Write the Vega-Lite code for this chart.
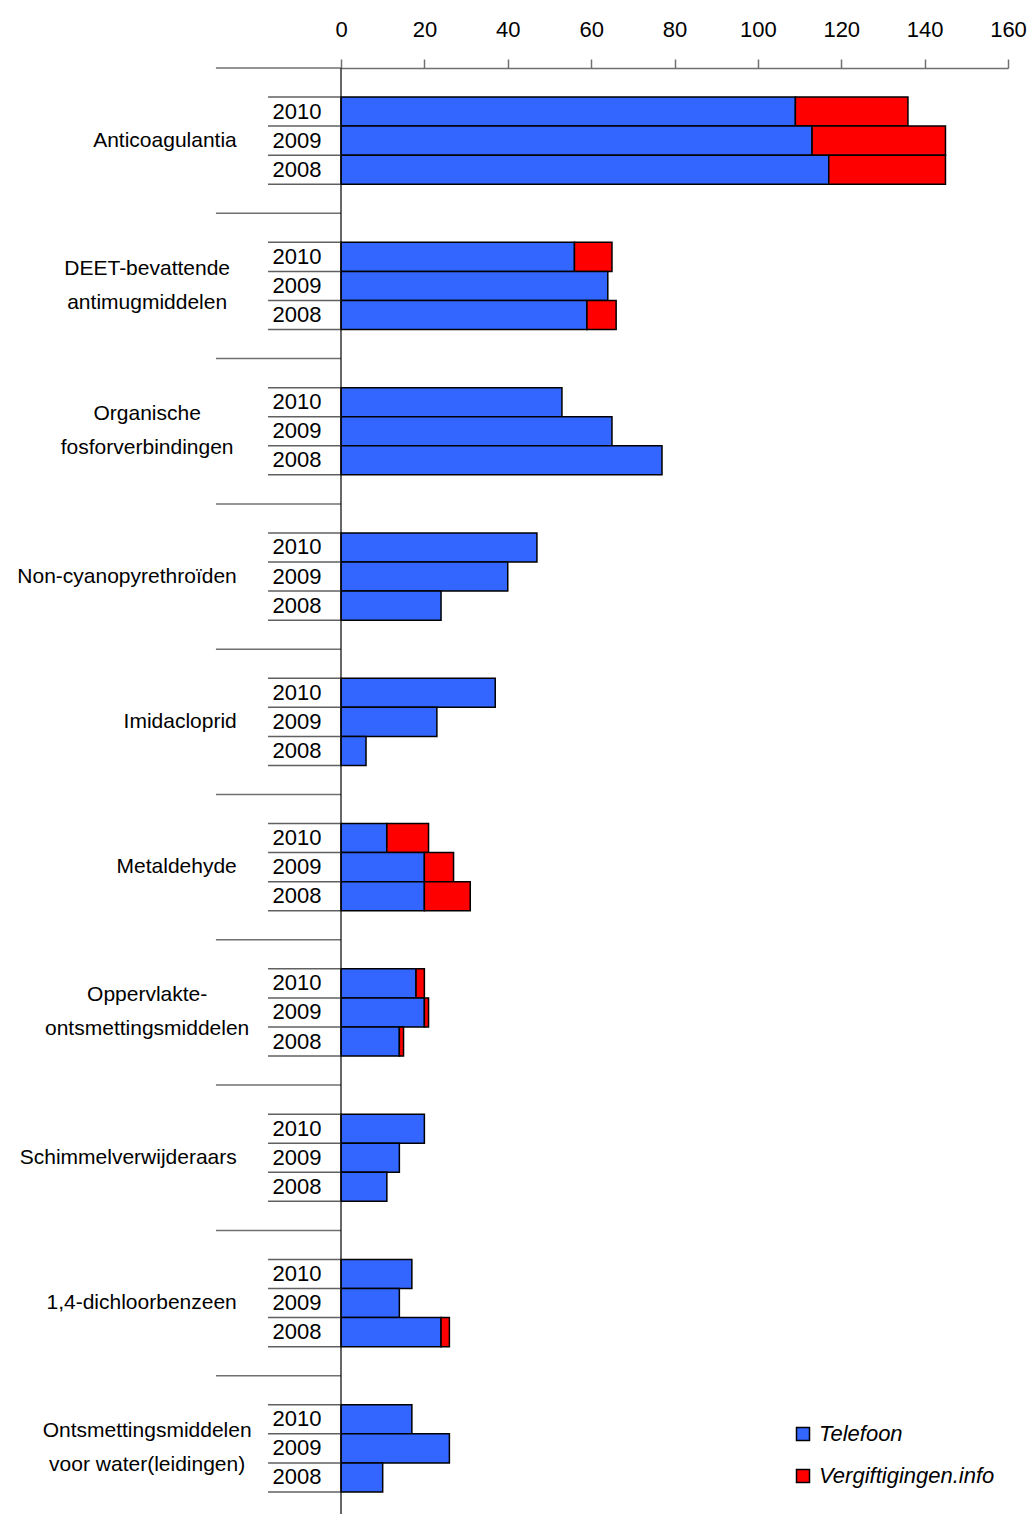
{
  "$schema": "https://vega.github.io/schema/vega-lite/v6.json",
  "width": 667,
  "height": 1446,
  "autosize": {"type": "none"},
  "padding": {"left": 341, "top": 68, "right": 22, "bottom": 0},
  "config": {"view": {"stroke": null}, "font": "Liberation Sans"},
  "datasets": {
    "bars": [
      {"slot": "1-2010", "category": "Anticoagulantia", "year": "2010", "source": "Telefoon", "value": 109},
      {"slot": "1-2010", "category": "Anticoagulantia", "year": "2010", "source": "Vergiftigingen.info", "value": 27},
      {"slot": "1-2009", "category": "Anticoagulantia", "year": "2009", "source": "Telefoon", "value": 113},
      {"slot": "1-2009", "category": "Anticoagulantia", "year": "2009", "source": "Vergiftigingen.info", "value": 32},
      {"slot": "1-2008", "category": "Anticoagulantia", "year": "2008", "source": "Telefoon", "value": 117},
      {"slot": "1-2008", "category": "Anticoagulantia", "year": "2008", "source": "Vergiftigingen.info", "value": 28},
      {"slot": "2-2010", "category": "DEET-bevattende antimugmiddelen", "year": "2010", "source": "Telefoon", "value": 56},
      {"slot": "2-2010", "category": "DEET-bevattende antimugmiddelen", "year": "2010", "source": "Vergiftigingen.info", "value": 9},
      {"slot": "2-2009", "category": "DEET-bevattende antimugmiddelen", "year": "2009", "source": "Telefoon", "value": 64},
      {"slot": "2-2008", "category": "DEET-bevattende antimugmiddelen", "year": "2008", "source": "Telefoon", "value": 59},
      {"slot": "2-2008", "category": "DEET-bevattende antimugmiddelen", "year": "2008", "source": "Vergiftigingen.info", "value": 7},
      {"slot": "3-2010", "category": "Organische fosforverbindingen", "year": "2010", "source": "Telefoon", "value": 53},
      {"slot": "3-2009", "category": "Organische fosforverbindingen", "year": "2009", "source": "Telefoon", "value": 65},
      {"slot": "3-2008", "category": "Organische fosforverbindingen", "year": "2008", "source": "Telefoon", "value": 77},
      {"slot": "4-2010", "category": "Non-cyanopyrethroïden", "year": "2010", "source": "Telefoon", "value": 47},
      {"slot": "4-2009", "category": "Non-cyanopyrethroïden", "year": "2009", "source": "Telefoon", "value": 40},
      {"slot": "4-2008", "category": "Non-cyanopyrethroïden", "year": "2008", "source": "Telefoon", "value": 24},
      {"slot": "5-2010", "category": "Imidacloprid", "year": "2010", "source": "Telefoon", "value": 37},
      {"slot": "5-2009", "category": "Imidacloprid", "year": "2009", "source": "Telefoon", "value": 23},
      {"slot": "5-2008", "category": "Imidacloprid", "year": "2008", "source": "Telefoon", "value": 6},
      {"slot": "6-2010", "category": "Metaldehyde", "year": "2010", "source": "Telefoon", "value": 11},
      {"slot": "6-2010", "category": "Metaldehyde", "year": "2010", "source": "Vergiftigingen.info", "value": 10},
      {"slot": "6-2009", "category": "Metaldehyde", "year": "2009", "source": "Telefoon", "value": 20},
      {"slot": "6-2009", "category": "Metaldehyde", "year": "2009", "source": "Vergiftigingen.info", "value": 7},
      {"slot": "6-2008", "category": "Metaldehyde", "year": "2008", "source": "Telefoon", "value": 20},
      {"slot": "6-2008", "category": "Metaldehyde", "year": "2008", "source": "Vergiftigingen.info", "value": 11},
      {"slot": "7-2010", "category": "Oppervlakte-ontsmettingsmiddelen", "year": "2010", "source": "Telefoon", "value": 18},
      {"slot": "7-2010", "category": "Oppervlakte-ontsmettingsmiddelen", "year": "2010", "source": "Vergiftigingen.info", "value": 2},
      {"slot": "7-2009", "category": "Oppervlakte-ontsmettingsmiddelen", "year": "2009", "source": "Telefoon", "value": 20},
      {"slot": "7-2009", "category": "Oppervlakte-ontsmettingsmiddelen", "year": "2009", "source": "Vergiftigingen.info", "value": 1},
      {"slot": "7-2008", "category": "Oppervlakte-ontsmettingsmiddelen", "year": "2008", "source": "Telefoon", "value": 14},
      {"slot": "7-2008", "category": "Oppervlakte-ontsmettingsmiddelen", "year": "2008", "source": "Vergiftigingen.info", "value": 1},
      {"slot": "8-2010", "category": "Schimmelverwijderaars", "year": "2010", "source": "Telefoon", "value": 20},
      {"slot": "8-2009", "category": "Schimmelverwijderaars", "year": "2009", "source": "Telefoon", "value": 14},
      {"slot": "8-2008", "category": "Schimmelverwijderaars", "year": "2008", "source": "Telefoon", "value": 11},
      {"slot": "9-2010", "category": "1,4-dichloorbenzeen", "year": "2010", "source": "Telefoon", "value": 17},
      {"slot": "9-2009", "category": "1,4-dichloorbenzeen", "year": "2009", "source": "Telefoon", "value": 14},
      {"slot": "9-2008", "category": "1,4-dichloorbenzeen", "year": "2008", "source": "Telefoon", "value": 24},
      {"slot": "9-2008", "category": "1,4-dichloorbenzeen", "year": "2008", "source": "Vergiftigingen.info", "value": 2},
      {"slot": "10-2010", "category": "Ontsmettingsmiddelen voor water(leidingen)", "year": "2010", "source": "Telefoon", "value": 17},
      {"slot": "10-2009", "category": "Ontsmettingsmiddelen voor water(leidingen)", "year": "2009", "source": "Telefoon", "value": 26},
      {"slot": "10-2008", "category": "Ontsmettingsmiddelen voor water(leidingen)", "year": "2008", "source": "Telefoon", "value": 10}
    ],
    "labels": [
      {"slot": "1-2009", "text": "Anticoagulantia", "multi": false},
      {"slot": "2-2009", "text": "DEET-bevattende\nantimugmiddelen", "multi": true},
      {"slot": "3-2009", "text": "Organische\nfosforverbindingen", "multi": true},
      {"slot": "4-2009", "text": "Non-cyanopyrethroïden", "multi": false},
      {"slot": "5-2009", "text": "Imidacloprid", "multi": false},
      {"slot": "6-2009", "text": "Metaldehyde", "multi": false},
      {"slot": "7-2009", "text": "Oppervlakte-\nontsmettingsmiddelen", "multi": true},
      {"slot": "8-2009", "text": "Schimmelverwijderaars", "multi": false},
      {"slot": "9-2009", "text": "1,4-dichloorbenzeen", "multi": false},
      {"slot": "10-2009", "text": "Ontsmettingsmiddelen\nvoor water(leidingen)", "multi": true}
    ],
    "groupseps": [
      {"slot": "1-a"}, {"slot": "2-a"}, {"slot": "3-a"}, {"slot": "4-a"}, {"slot": "5-a"},
      {"slot": "6-a"}, {"slot": "7-a"}, {"slot": "8-a"}, {"slot": "9-a"}, {"slot": "10-a"}
    ],
    "yearseps": [
      {"slot": "1-a"}, {"slot": "1-2010"}, {"slot": "1-2009"}, {"slot": "1-2008"},
      {"slot": "2-a"}, {"slot": "2-2010"}, {"slot": "2-2009"}, {"slot": "2-2008"},
      {"slot": "3-a"}, {"slot": "3-2010"}, {"slot": "3-2009"}, {"slot": "3-2008"},
      {"slot": "4-a"}, {"slot": "4-2010"}, {"slot": "4-2009"}, {"slot": "4-2008"},
      {"slot": "5-a"}, {"slot": "5-2010"}, {"slot": "5-2009"}, {"slot": "5-2008"},
      {"slot": "6-a"}, {"slot": "6-2010"}, {"slot": "6-2009"}, {"slot": "6-2008"},
      {"slot": "7-a"}, {"slot": "7-2010"}, {"slot": "7-2009"}, {"slot": "7-2008"},
      {"slot": "8-a"}, {"slot": "8-2010"}, {"slot": "8-2009"}, {"slot": "8-2008"},
      {"slot": "9-a"}, {"slot": "9-2010"}, {"slot": "9-2009"}, {"slot": "9-2008"},
      {"slot": "10-a"}, {"slot": "10-2010"}, {"slot": "10-2009"}, {"slot": "10-2008"}
    ]
  },
  "layer": [
    {
      "data": {"name": "bars"},
      "mark": {"type": "bar", "stroke": "black", "strokeWidth": 1.5},
      "encoding": {
        "y": {
          "field": "slot", "type": "nominal",
          "scale": {
            "domain": ["1-a","1-2010","1-2009","1-2008","1-b","2-a","2-2010","2-2009","2-2008","2-b","3-a","3-2010","3-2009","3-2008","3-b","4-a","4-2010","4-2009","4-2008","4-b","5-a","5-2010","5-2009","5-2008","5-b","6-a","6-2010","6-2009","6-2008","6-b","7-a","7-2010","7-2009","7-2008","7-b","8-a","8-2010","8-2009","8-2008","8-b","9-a","9-2010","9-2009","9-2008","9-b","10-a","10-2010","10-2009","10-2008","10-b"],
            "range": [0, 1453], "paddingInner": 0, "paddingOuter": 0
          },
          "axis": {
            "title": null, "domain": false, "ticks": false,
            "labelExpr": "(slice(datum.value, -1) == 'a' || slice(datum.value, -1) == 'b') ? '' : slice(datum.value, -4)",
            "labelFontSize": 22, "labelColor": "black", "labelPadding": 20, "labelFont": "Liberation Sans"
          }
        },
        "x": {
          "field": "value", "type": "quantitative", "stack": "zero",
          "scale": {"domain": [0, 160], "nice": false},
          "axis": {
            "orient": "top", "title": null, "grid": false,
            "values": [0, 20, 40, 60, 80, 100, 120, 140, 160],
            "labelFlush": false, "labelFontSize": 22, "labelColor": "black", "labelPadding": 18,
            "labelFont": "Liberation Sans",
            "tickSize": 9, "tickColor": "#707070", "domainColor": "#707070", "domainWidth": 1.5, "tickWidth": 1.5
          }
        },
        "color": {
          "field": "source", "type": "nominal",
          "scale": {"domain": ["Telefoon", "Vergiftigingen.info"], "range": ["#3366FF", "#FF0000"]},
          "legend": {
            "title": null, "orient": "none", "legendX": 451, "legendY": 1355,
            "symbolType": "square", "symbolSize": 169, "symbolStrokeColor": "black", "symbolStrokeWidth": 1.5,
            "labelFontSize": 22, "labelFontStyle": "italic", "labelFont": "Liberation Sans",
            "labelColor": "black", "labelOffset": 5, "labelLimit": 0, "rowPadding": 20
          }
        }
      }
    },
    {
      "data": {"name": "groupseps"},
      "mark": {"type": "rule", "color": "#707070", "strokeWidth": 1.5},
      "encoding": {
        "y": {"field": "slot", "type": "nominal", "bandPosition": 0},
        "x": {"datum": -30},
        "x2": {"datum": 0}
      }
    },
    {
      "data": {"name": "yearseps"},
      "mark": {"type": "rule", "color": "#606060", "strokeWidth": 1.5},
      "encoding": {
        "y": {"field": "slot", "type": "nominal", "bandPosition": 1},
        "x": {"datum": -17.5},
        "x2": {"datum": 0}
      }
    },
    {
      "data": {"values": [{}]},
      "mark": {"type": "rule", "color": "black", "strokeWidth": 1.2},
      "encoding": {"x": {"datum": 0}}
    },
    {
      "data": {"name": "labels"},
      "transform": [{"filter": "!datum.multi"}],
      "mark": {"type": "text", "align": "right", "baseline": "middle", "fontSize": 21, "color": "black", "font": "Liberation Sans"},
      "encoding": {
        "y": {"field": "slot", "type": "nominal"},
        "x": {"datum": -25},
        "text": {"field": "text"}
      }
    },
    {
      "data": {"name": "labels"},
      "transform": [{"filter": "datum.multi"}],
      "mark": {"type": "text", "align": "center", "baseline": "middle", "fontSize": 21, "color": "black", "font": "Liberation Sans", "lineBreak": "\n", "lineHeight": 34, "dy": -17},
      "encoding": {
        "y": {"field": "slot", "type": "nominal"},
        "x": {"datum": -46.5},
        "text": {"field": "text"}
      }
    }
  ]
}
